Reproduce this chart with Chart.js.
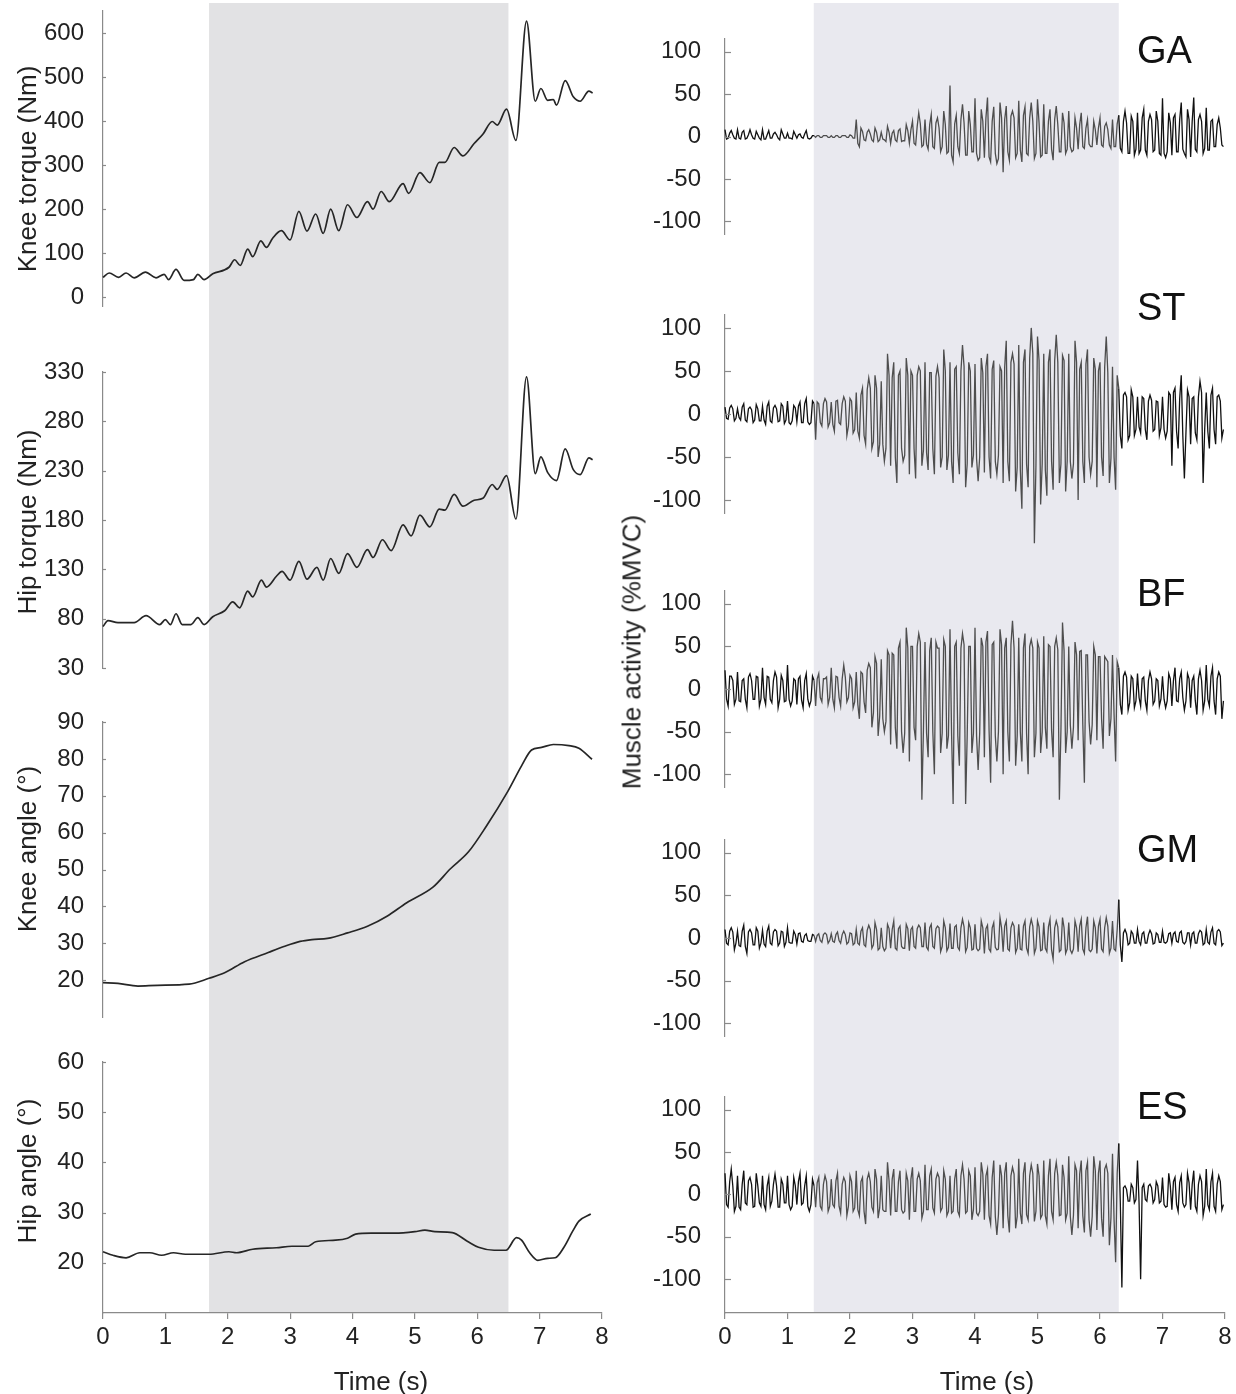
<!DOCTYPE html>
<html>
<head>
<meta charset="utf-8">
<script src="https://cdn.jsdelivr.net/npm/chart.js@4.4.1/dist/chart.umd.min.js"></script>
<style>
  body { margin: 0; background: #fff; }
  #wrap { position: relative; width: 1236px; height: 1394px; overflow: hidden; font-family: "Liberation Sans", Arial, sans-serif; color: #222; }
  canvas { position: absolute; }
  .ttl { position: absolute; font-size: 26px; white-space: nowrap; transform: translate(-50%, -50%); }
  .rot { transform: translate(-50%, -50%) rotate(-90deg); }
</style>
</head>
<body>
<div id="wrap">
  <div class="ttl rot" style="left:27px;top:169px">Knee torque (Nm)</div>
  <div class="ttl rot" style="left:27px;top:522px">Hip torque (Nm)</div>
  <div class="ttl rot" style="left:27px;top:849px">Knee angle (°)</div>
  <div class="ttl rot" style="left:27px;top:1171px">Hip angle (°)</div>
  <div class="ttl rot" style="left:632px;top:652px">Muscle activity (%MVC)</div>
  <div class="ttl" style="left:381px;top:1381px">Time (s)</div>
  <div class="ttl" style="left:987px;top:1381px">Time (s)</div>
</div>
<script>
// ---- data ----
var timeTicks = [0, 1, 2, 3, 4, 5, 6, 7, 8];
var kneeTorqueTicks = [0, 100, 200, 300, 400, 500, 600];
var hipTorqueTicks = [30, 80, 130, 180, 230, 280, 330];
var kneeAngleTicks = [20, 30, 40, 50, 60, 70, 80, 90];
var hipAngleTicks = [20, 30, 40, 50, 60];
var emgTicks = [-100, -50, 0, 50, 100];

// shaded windows (s)
var leftShade = [1.7, 6.5];
var rightShade = [1.42, 6.3];

var kneeTorqueT = [0,0.1,0.25,0.37,0.5,0.68,0.85,0.98,1.05,1.17,1.3,1.45,1.52,1.62,1.76,2.02,2.11,2.2,2.32,2.4,2.53,2.62,2.72,2.86,3.0,3.14,3.27,3.41,3.53,3.65,3.78,3.92,4.07,4.24,4.33,4.46,4.59,4.81,4.9,5.08,5.24,5.39,5.48,5.63,5.77,5.95,6.09,6.24,6.32,6.47,6.62,6.79,6.93,7.02,7.13,7.22,7.27,7.41,7.54,7.65,7.79,7.85];
var kneeTorqueV = [45,55,45,55,44,57,44,52,40,63,38,40,52,40,53,68,85,72,109,92,128,113,134,151,130,195,150,189,145,200,151,210,181,217,200,240,217,258,236,283,260,306,306,340,321,349,370,399,391,427,356,627,445,474,447,449,436,492,455,445,468,464];

var hipTorqueT = [0,0.08,0.24,0.5,0.69,0.91,1.0,1.08,1.17,1.27,1.41,1.52,1.62,1.76,1.95,2.08,2.19,2.32,2.4,2.54,2.62,2.78,2.87,3.0,3.14,3.27,3.43,3.53,3.65,3.78,3.92,4.07,4.24,4.33,4.48,4.62,4.81,4.94,5.08,5.24,5.39,5.48,5.63,5.77,5.95,6.09,6.24,6.32,6.47,6.62,6.79,6.93,7.02,7.13,7.27,7.41,7.54,7.65,7.79,7.85];
var hipTorqueV = [72,78,76,76,83,74,79,74,85,74,74,81,74,82,88,97,91,108,102,119,112,123,128,119,138,120,132,119,141,126,146,132,150,142,160,149,175,164,185,173,191,190,206,194,200,202,216,211,225,181,325,227,244,228,220,252,231,226,243,241];

var kneeAngleT = [0,0.24,0.56,0.87,1.38,1.7,1.95,2.27,2.65,2.9,3.16,3.35,3.6,3.92,4.24,4.56,4.87,5.29,5.57,5.86,6.14,6.49,6.71,6.87,7.03,7.22,7.47,7.63,7.84];
var kneeAngleV = [19.3,19.1,18.4,18.6,18.9,20.5,22,25,27.5,29.1,30.5,31,31.3,32.8,34.6,37.4,41,45.2,50.2,54.8,61.6,71.2,78.1,82.4,83.1,83.9,83.6,82.9,79.9];

var hipAngleT = [0,0.16,0.37,0.59,0.75,0.94,1.13,1.32,1.7,2.02,2.14,2.4,2.78,3.03,3.29,3.41,3.73,3.92,4.05,4.3,4.68,5.0,5.16,5.32,5.6,5.84,6.02,6.27,6.46,6.63,6.71,6.84,6.97,7.13,7.25,7.39,7.53,7.63,7.82];
var hipAngleV = [22.2,21.5,21,22,22,21.5,22,21.7,21.7,22.2,22,22.7,23,23.3,23.3,24.2,24.5,24.9,25.7,25.9,25.9,26.2,26.5,26.2,26,24.3,23.1,22.5,22.5,25,24.5,22,20.5,20.9,21,23.1,26.3,28.3,29.7];

// EMG (%MVC): "A" samples every emgStep s, "B" samples half a step later; rows of 0.5 s
var emgStep = 0.05;
var gaEmgA = [
  8,-2,7,-2,8,-3,7,-2,8,-2,
  6,-2,8,-3,7,-2,5,-2,8,-2,
  4,-2,6,-2,3,-2,7,-3,1,-1,
  1,-1,1,-1,1,-1,1,-1,1,-1,
  2,-2,20,-12,6,-5,8,-4,10,-6,
  5,-4,12,-8,7,-6,9,-5,14,-8,
  18,-10,28,-12,20,-15,26,-14,22,-18,
  30,-20,60,-30,25,-20,38,-22,30,-18,
  45,-28,32,-25,46,-30,35,-32,40,-42,
  36,-28,30,-25,42,-30,35,-22,40,-26,
  44,-24,38,-20,32,-28,36,-18,28,-20,
  30,-18,22,-15,28,-14,20,-12,18,-10,
  22,-12,16,-10,20,-12,25,-18,30,-20,
  24,-22,28,-16,32,-22,26,-18,30,-20,
  45,-25,28,-22,26,-18,40,-20,32,-24,
  46,-18,26,-20,34,-16,20,-12,22,-10
];
var gaEmgB = [
  -3,4,2,-3,-2,5,-3,2,2,-3,
  2,-4,-3,2,-2,3,2,-4,3,-2,
  -2,-3,2,2,-1,3,-2,-2,1,1,
  -1,1,1,-1,-1,1,-1,1,1,-1,
  1,-2,-8,10,-4,5,3,-6,5,-4,
  -3,-6,5,4,-4,7,-6,-5,7,8,
  -8,12,15,-10,-9,14,-12,16,10,-12,
  14,-18,-22,15,-12,20,16,-22,14,-18,
  -20,-25,18,22,-24,18,-20,-26,22,20,
  -18,24,22,-20,-16,25,-20,22,18,-20,
  16,-22,-20,18,-15,20,14,-18,16,-15,
  -12,-16,10,14,-12,10,-9,-12,8,10,
  -10,12,8,-14,-12,15,-14,18,16,-20,
  18,-15,-20,22,-16,18,20,-16,18,-22,
  -20,-18,16,22,-18,20,-15,-24,20,18,
  -15,20,18,-14,-16,18,-12,14,10,-12
];
var stEmgA = [
  8,-6,10,-8,6,-7,12,-9,8,-10,
  11,-8,9,-12,14,-10,10,-9,12,-11,
  15,-12,10,-9,14,-10,18,-12,15,-30,
  12,-14,18,-15,14,-20,16,-12,20,-25,
  18,-22,25,-28,30,-35,42,-40,45,-50,
  38,-55,70,-60,60,-80,50,-55,65,-70,
  45,-75,55,-60,60,-65,48,-70,55,-62,
  75,-65,60,-80,55,-70,80,-85,60,-62,
  58,-78,65,-68,70,-75,62,-70,55,-80,
  85,-78,70,-90,80,-110,75,-85,100,-150,
  90,-105,70,-95,75,-88,92,-80,68,-90,
  70,-75,85,-100,60,-80,75,-70,65,-85,
  60,-72,90,-80,55,-88,30,-40,25,-30,
  28,-25,20,-22,18,-30,22,-20,15,-25,
  20,-28,25,-60,30,-40,45,-75,28,-35,
  20,-30,38,-80,25,-40,30,-35,22,-28
];
var stEmgB = [
  -5,7,6,-5,-4,8,-7,6,5,-7,
  6,-8,-7,9,-8,7,6,-8,9,-7,
  -10,-8,7,9,-10,12,-9,-10,12,14,
  -10,12,14,-10,-12,15,-10,12,15,-14,
  15,-18,-20,22,-25,28,30,-32,30,-35,
  -35,-40,45,42,-50,45,-40,-48,45,50,
  -40,45,50,-42,-45,48,-40,44,42,-50,
  50,-48,-55,52,-45,50,55,-58,50,-48,
  -52,-50,48,55,-50,52,-55,-48,50,55,
  -55,60,58,-62,-65,60,-58,65,70,-60,
  62,-58,-65,60,-55,62,60,-58,62,-55,
  -55,-58,60,52,-55,58,-50,-55,52,50,
  -50,55,48,-52,-50,45,-25,22,20,-25,
  20,-18,-15,20,-18,15,16,-18,14,-16,
  -18,-20,22,25,-20,18,-25,-22,20,18,
  -22,20,25,-18,-20,22,-18,20,15,-18
];
var bfEmgA = [
  22,-20,15,-18,20,-15,12,-22,18,-12,
  15,-20,25,-18,14,-16,20,-22,16,-15,
  28,-20,12,-18,15,-22,18,-20,15,-20,
  18,-15,12,-18,25,-22,14,-20,28,-15,
  16,-22,20,-35,18,-28,30,-45,38,-55,
  35,-50,45,-65,40,-70,55,-75,72,-85,
  50,-60,65,-130,55,-80,60,-100,48,-75,
  58,-70,70,-135,55,-90,65,-135,50,-75,
  72,-95,60,-80,68,-110,55,-85,70,-100,
  60,-85,80,-90,60,-85,65,-100,58,-80,
  55,-75,62,-70,50,-80,60,-130,78,-75,
  50,-70,55,-60,45,-110,40,-65,50,-60,
  38,-70,35,-55,40,-85,25,-30,20,-25,
  15,-22,18,-20,14,-25,20,-18,12,-20,
  15,-22,18,-20,25,-15,20,-25,18,-22,
  15,-30,22,-25,28,-20,25,-30,20,-35
];
var bfEmgB = [
  -12,15,10,-12,-14,10,-12,14,10,-12,
  14,-12,-10,15,-12,10,14,-12,10,-14,
  -12,-14,10,12,-13,10,-12,-14,10,12,
  -10,12,14,-10,-12,15,-10,12,14,-10,
  12,-15,-18,20,-15,22,25,-28,30,-32,
  -35,-38,40,42,-45,48,-50,-52,48,50,
  -45,50,55,-48,-52,45,-50,55,48,-52,
  50,-55,-52,50,-55,48,52,-55,50,-52,
  -55,-52,50,55,-48,52,-55,-50,52,48,
  -50,52,48,-55,-50,48,-52,50,48,-52,
  48,-50,-45,52,-48,50,46,-48,45,-50,
  -42,-45,40,44,-42,40,-38,-42,40,38,
  -35,38,32,-35,-30,32,-18,15,14,-16,
  12,-14,-10,12,-14,10,12,-14,10,-12,
  -12,-14,12,10,-14,12,-10,-14,12,10,
  -14,12,10,-14,-12,15,-14,12,15,-14
];
var gmEmgA = [
  10,-8,12,-14,8,-10,15,-18,10,-8,
  12,-12,9,-10,14,-8,10,-9,8,-10,
  12,-6,8,-7,6,-5,5,-4,4,-4,
  5,-5,6,-6,5,-5,7,-6,8,-7,
  6,-8,10,-8,12,-10,15,-12,18,-14,
  12,-15,16,-12,20,-14,14,-12,16,-15,
  13,-12,15,-10,18,-14,16,-12,14,-16,
  20,-15,17,-12,15,-14,22,-16,18,-14,
  16,-15,20,-18,15,-16,18,-14,24,-16,
  20,-15,18,-17,16,-14,20,-18,22,-18,
  20,-15,18,-16,22,-25,20,-16,24,-18,
  18,-18,20,-16,22,-18,25,-16,20,-18,
  22,-16,24,-18,20,-15,45,-28,10,-8,
  8,-6,10,-8,7,-6,9,-7,6,-5,
  8,-6,5,-6,7,-5,8,-7,6,-8,
  7,-6,9,-8,10,-7,12,-8,10,-9
];
var gmEmgB = [
  -6,8,7,-6,-9,8,-10,7,6,-8,
  8,-6,-7,8,-6,7,8,-6,7,-5,
  -5,-6,4,5,-4,3,-3,-4,3,3,
  -3,4,4,-3,-4,4,-3,4,4,-5,
  5,-6,-6,8,-8,9,10,-8,10,-12,
  -10,-12,11,10,-12,11,-10,-12,11,10,
  -10,11,12,-10,-11,12,-10,11,12,-10,
  12,-11,-12,13,-11,12,13,-11,12,-13,
  -12,-13,12,11,-13,12,-11,-13,12,14,
  -13,12,14,-12,-13,14,-12,13,14,-12,
  13,-14,-12,13,-14,12,13,-14,12,-13,
  -14,-13,12,14,-13,12,-14,-13,12,14,
  -13,12,14,-12,-13,10,-8,6,5,-6,
  5,-6,-4,5,-6,4,5,-6,4,-5,
  -5,-4,6,5,-4,6,-5,-4,6,5,
  -6,5,7,-6,-5,7,-6,8,7,-6
];
var esEmgA = [
  25,-15,30,-20,22,-18,28,-12,20,-15,
  25,-10,22,-18,20,-8,24,-15,18,-10,
  22,-18,20,-12,25,-10,22,-20,18,-15,
  20,-18,22,-20,18,-15,25,-22,20,-25,
  22,-20,28,-25,20,-35,25,-15,30,-28,
  22,-20,38,-25,30,-20,28,-22,25,-30,
  32,-20,25,-28,35,-18,30,-22,25,-20,
  28,-25,22,-20,30,-25,35,-22,28,-30,
  32,-25,38,-30,30,-35,40,-48,35,-40,
  38,-45,32,-40,42,-35,38,-30,35,-32,
  36,-28,40,-35,42,-30,38,-25,35,-30,
  45,-48,35,-40,40,-45,38,-50,45,-42,
  40,-50,35,-60,48,-80,60,-110,10,-8,
  12,-10,40,-100,12,-8,12,-10,15,-10,
  20,-15,25,-18,20,-20,22,-15,25,-18,
  28,-20,22,-25,30,-18,25,-20,22,-18
];
var esEmgB = [
  -12,15,10,-14,-15,12,-10,16,12,-14,
  10,-14,-12,10,-14,12,10,-15,12,-10,
  -12,-14,10,15,-12,10,-14,-12,10,14,
  -14,12,15,-14,-12,16,-14,12,15,-14,
  15,-16,-18,15,-20,18,15,-20,18,-16,
  -18,-20,16,18,-20,15,-18,-20,16,18,
  -20,18,16,-20,-18,22,-16,18,20,-16,
  18,-20,-22,18,-20,22,18,-20,22,-18,
  -22,-20,24,22,-25,20,-26,-24,22,25,
  -25,22,24,-26,-22,25,-24,22,25,-20,
  22,-24,-25,22,-20,25,22,-24,20,-22,
  -26,-25,28,24,-25,28,-30,-26,28,25,
  -28,30,25,-28,-30,25,-10,8,6,-8,
  8,-6,-10,8,-6,10,8,-6,10,-8,
  -12,-14,10,15,-12,14,-10,-12,14,12,
  -14,12,15,-14,-12,15,-14,12,15,-12
];

// ---- styles ----
var axisColor = "#8a8a8a";
var textColor = "#222";
var tickFont = { family: "'Liberation Sans', Arial, sans-serif", size: 24 };
var leftShadeColor = "rgb(226, 226, 228)";
var rightShadeColor = "rgb(233, 233, 239)";

var shadePlugin = {
  id: "shade",
  beforeDraw: function (chart, args, o) {
    var x = chart.scales.x, area = chart.chartArea, ctx = chart.ctx;
    var x0 = x.getPixelForValue(o.from), x1 = x.getPixelForValue(o.to);
    var y1 = o.toAxis ? area.bottom : chart.height;
    ctx.save();
    ctx.fillStyle = o.color;
    ctx.fillRect(x0, o.top, x1 - x0, y1 - o.top);
    ctx.restore();
  }
};

// small tick marks pointing into the plot
var tickPlugin = {
  id: "inTicks",
  afterDraw: function (chart, args, o) {
    var y = chart.scales.y, ctx = chart.ctx, left = chart.chartArea.left;
    ctx.save();
    ctx.strokeStyle = axisColor;
    ctx.lineWidth = 1.2;
    y.ticks.forEach(function (t) {
      var p = Math.round(y.getPixelForValue(t.value)) + 0.5;
      ctx.beginPath();
      ctx.moveTo(left, p);
      ctx.lineTo(left + o.len, p);
      ctx.stroke();
    });
    ctx.restore();
  }
};

var namePlugin = {
  id: "panelName",
  afterDraw: function (chart, args, o) {
    if (!o.text) return;
    var ctx = chart.ctx;
    ctx.save();
    ctx.font = "38px 'Liberation Sans', Arial, sans-serif";
    ctx.fillStyle = "#111";
    ctx.textBaseline = "alphabetic";
    ctx.fillText(o.text, o.x, o.y);
    ctx.restore();
  }
};

function pairs(ts, vs) {
  return ts.map(function (t, i) { return { x: t, y: vs[i] }; });
}
function emgPoints(a, b) {
  var pts = [];
  a.forEach(function (v, i) {
    pts.push({ x: i * emgStep, y: v });
    pts.push({ x: i * emgStep + emgStep / 2, y: b[i] });
  });
  return pts;
}

var wrap = document.getElementById("wrap");

function makePanel(p) {
  var cv = document.createElement("canvas");
  cv.width = p.w; cv.height = p.h;
  cv.style.left = p.x + "px"; cv.style.top = p.y + "px";
  cv.style.width = p.w + "px"; cv.style.height = p.h + "px";
  wrap.insertBefore(cv, wrap.firstChild);

  return new Chart(cv, {
    type: "line",
    data: {
      datasets: [{
        data: p.data,
        borderColor: p.color,
        borderWidth: p.lw,
        pointRadius: 0,
        cubicInterpolationMode: p.smooth ? "monotone" : "default",
        tension: 0,
        clip: false,
        segment: p.segment || {}
      }]
    },
    options: {
      responsive: false,
      animation: false,
      devicePixelRatio: 1,
      events: [],
      layout: { padding: { top: p.padTop, bottom: p.xAxis ? 0 : p.padBottom, left: 0, right: p.padRight } },
      plugins: {
        legend: { display: false },
        tooltip: { enabled: false },
        shade: { from: p.shade[0], to: p.shade[1], color: p.shadeColor, top: p.shadeTop, toAxis: !!p.xAxis },
        inTicks: { len: p.inTick },
        panelName: { text: p.name, x: p.nameX, y: p.nameY }
      },
      scales: {
        x: {
          type: "linear", min: 0, max: 8,
          display: !!p.xAxis,
          afterBuildTicks: function (s) { s.ticks = timeTicks.map(function (v) { return { value: v }; }); },
          afterFit: function (s) {
            if (p.xAxis) { s.height = 81; }
            s.paddingLeft = 0; s.paddingRight = 0;
          },
          grid: { display: true, drawOnChartArea: false, drawTicks: true, tickLength: 6, color: axisColor, lineWidth: 1.2 },
          border: { color: axisColor, width: 1.2 },
          ticks: { font: tickFont, color: textColor, padding: 4, maxRotation: 0, autoSkip: false }
        },
        y: {
          type: "linear", min: p.yMin, max: p.yMax,
          afterBuildTicks: function (s) { s.ticks = p.yTicks.map(function (v) { return { value: v }; }); },
          afterFit: function (s) { s.width = p.axisW; s.paddingTop = 0; s.paddingBottom = 0; },
          grid: { display: false },
          border: { color: axisColor, width: 1.2 },
          ticks: { font: tickFont, color: textColor, padding: p.labelPad, autoSkip: false }
        }
      }
    },
    plugins: [shadePlugin, tickPlugin, namePlugin]
  });
}

// ---- left column ----
var leftBase = { x: 0, w: 615, axisW: 103, padRight: 13, labelPad: 11, inTick: 3,
  color: "#262626", lw: 1.7, smooth: true, shade: leftShade, shadeColor: leftShadeColor };

makePanel(Object.assign({}, leftBase, { y: 0, h: 340, padTop: 11, padBottom: 34, shadeTop: 3,
  yMin: -20, yMax: 650, yTicks: kneeTorqueTicks, data: pairs(kneeTorqueT, kneeTorqueV) }));
makePanel(Object.assign({}, leftBase, { y: 340, h: 355, padTop: 32, padBottom: 27, shadeTop: 0,
  yMin: 30, yMax: 330, yTicks: hipTorqueTicks, data: pairs(hipTorqueT, hipTorqueV) }));
makePanel(Object.assign({}, leftBase, { y: 695, h: 340, padTop: 27, padBottom: 18, shadeTop: 0,
  yMin: 10, yMax: 90, yTicks: kneeAngleTicks, data: pairs(kneeAngleT, kneeAngleV) }));
makePanel(Object.assign({}, leftBase, { y: 1035, h: 359, padTop: 27, shadeTop: 0, xAxis: true,
  yMin: 10, yMax: 60, yTicks: hipAngleTicks, data: pairs(hipAngleT, hipAngleV) }));

// ---- right column (EMG) ----
var emgSegment = {
  borderColor: function (c) {
    var t = c.p0.parsed.x;
    return (t >= rightShade[0] && t < rightShade[1]) ? "#4e4e4e" : "#111";
  }
};
var rightBase = { x: 620, w: 616, axisW: 105, padRight: 11, labelPad: 16, inTick: 6,
  color: "#111", lw: 1.3, smooth: false, shade: rightShade, shadeColor: rightShadeColor,
  segment: emgSegment, yTicks: emgTicks, yMin: -115, yMax: 115, nameX: 517 };

makePanel(Object.assign({}, rightBase, { y: 0, h: 280, padTop: 39, padBottom: 46, shadeTop: 3,
  data: emgPoints(gaEmgA, gaEmgB), name: "GA", nameY: 63 }));
makePanel(Object.assign({}, rightBase, { y: 280, h: 270, padTop: 35, padBottom: 37, shadeTop: 0,
  data: emgPoints(stEmgA, stEmgB), name: "ST", nameY: 40 }));
makePanel(Object.assign({}, rightBase, { y: 550, h: 270, padTop: 41, padBottom: 33, shadeTop: 0,
  data: emgPoints(bfEmgA, bfEmgB), name: "BF", nameY: 56 }));
makePanel(Object.assign({}, rightBase, { y: 820, h: 255, padTop: 20, padBottom: 39, shadeTop: 0,
  data: emgPoints(gmEmgA, gmEmgB), name: "GM", nameY: 42 }));
makePanel(Object.assign({}, rightBase, { y: 1075, h: 319, padTop: 22, shadeTop: 0, xAxis: true, yMin: -140,
  data: emgPoints(esEmgA, esEmgB), name: "ES", nameY: 44 }));
</script>
</body>
</html>
